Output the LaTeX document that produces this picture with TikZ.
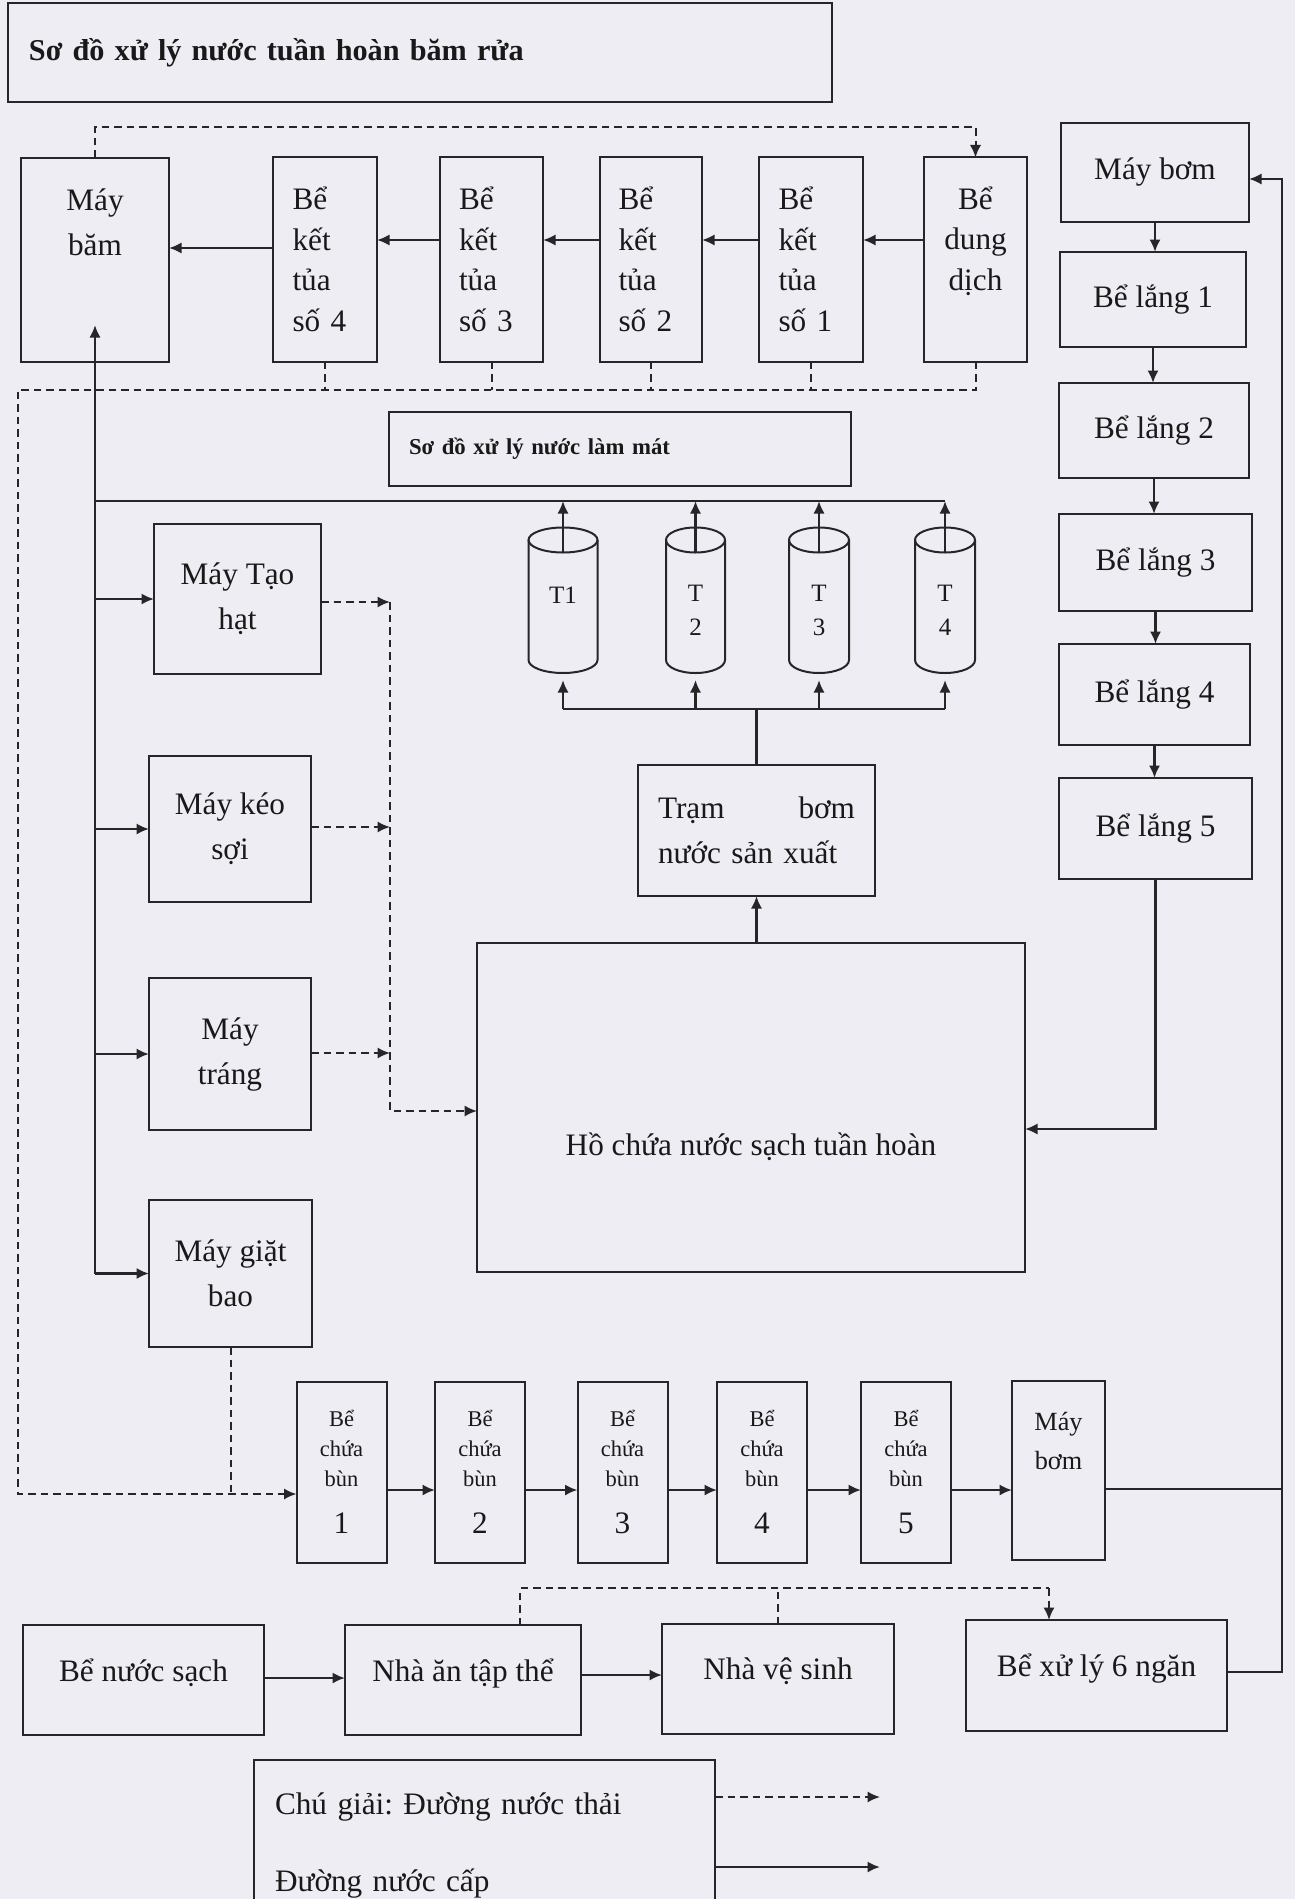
\documentclass[tikz,border=0pt]{standalone}
\usepackage{fontspec}
\setmainfont{Liberation Serif}
\usetikzlibrary{arrows.meta}
\frenchspacing

\definecolor{nen}{RGB}{238,237,243}
\definecolor{vien}{RGB}{38,38,40}

\tikzset{
  sz/.style 2 args={minimum width=#1*0.4pt, minimum height=#2*0.4pt},
  hop/.style={draw=vien, line width=0.8pt, inner sep=0pt, outer sep=0pt,
    align=center, text=black!90, font=\fontsize{12.5}{18}\selectfont},
  kt/.style={hop, align=left, text width=26pt, font=\fontsize{12.5}{16.2}\selectfont},
  bun/.style={hop, font=\fontsize{9}{12}\selectfont},
  nuoccap/.style={draw=vien, line width=1pt},
  nuocthai/.style={draw=vien, line width=0.8pt, dash pattern=on 3pt off 2pt},
}

\begin{document}
\begin{tikzpicture}[x=0.4pt,y=-0.4pt,>={Latex[length=5pt,width=4.5pt]}]

% --- Nen ---
\fill[nen] (0,0) rectangle (1295,1899);
\useasboundingbox (0,0) rectangle (1295,1899);

% --- Tieu de ---
\node[hop, sz={824}{99}, text width=312.8pt, align=left,
  font=\bfseries\fontsize{12.1}{15}\selectfont] (tieude) at (420,52.5)
  {Sơ đồ xử lý nước tuần hoàn băm rửa};

% --- Day be bam rua ---
\node[hop, sz={148}{204}, text height=27.5pt, text depth=31.5pt] (mb) at (95,260) {Máy\\băm};
\node[kt, sz={104}{204}] (kt4) at (325,259.5) {Bể\\kết\\tủa\\số 4};
\node[kt, sz={103}{204}] (kt3) at (491.5,259.5) {Bể\\kết\\tủa\\số 3};
\node[kt, sz={102}{204}] (kt2) at (651,259.5) {Bể\\kết\\tủa\\số 2};
\node[kt, sz={104}{204}] (kt1) at (811,259.5) {Bể\\kết\\tủa\\số 1};
\node[hop, sz={103}{204}, font=\fontsize{12.5}{16.2}\selectfont,
  text height=43.4pt, text depth=19pt] (dd) at (975.5,259.5) {Bể\\dung\\dịch};

\foreach \a/\b in {dd/kt1,kt1/kt2,kt2/kt3,kt3/kt4}
  \draw[nuoccap,->] (\a.west |- 0,240) -- (\b.east |- 0,240);
\draw[nuoccap,->] (kt4.west |- 0,248) -- (mb.east |- 0,248);

% --- Duong thai vong tren / duoi ---
\draw[nuocthai,->] (mb.north) -- ++(0,-31) -| (dd.north);
\foreach \b in {kt4,kt3,kt2,kt1}
  \draw[nuocthai] (\b.south) -- (\b.south |- 0,390);

% --- Cot lang ben phai ---
\node[hop, sz={188}{99}] (mbt) at (1155,172.5) {Máy bơm};
\node[hop, sz={186}{95}] (bl1) at (1153,299.5) {Bể lắng 1};
\node[hop, sz={190}{95}] (bl2) at (1154,430.5) {Bể lắng 2};
\node[hop, sz={193}{97}] (bl3) at (1155.5,562.5) {Bể lắng 3};
\node[hop, sz={191}{101}] (bl4) at (1154.5,694.5) {Bể lắng 4};
\node[hop, sz={193}{101}] (bl5) at (1155.5,828.5) {Bể lắng 5};

\foreach \a/\b in {mbt/bl1,bl1/bl2,bl2/bl3,bl3/bl4,bl4/bl5}
  \draw[nuoccap,->] (\a.south) -- (\a.south |- \b.north);

% --- Nuoc lam mat ---
\node[hop, sz={462}{74}, text width=168.8pt, align=left,
  font=\bfseries\fontsize{9.1}{12}\selectfont] (lammat) at (620,449)
  {Sơ đồ xử lý nước làm mát};

\foreach \i/\cx/\rx/\ty/\ten in {1/563/34.5/595/T1, 2/695.5/29.5/610/{T\\2},
    3/819/30/610/{T\\3}, 4/945/30/610/{T\\4}} {
  \draw[vien, line width=0.8pt] (\cx-\rx,540) -- (\cx-\rx,660)
    arc[start angle=180, end angle=360, x radius=\rx*0.4pt, y radius=5.2pt]
    -- (\cx+\rx,540);
  \draw[vien, line width=0.8pt] (\cx,540) ellipse[x radius=\rx*0.4pt, y radius=5pt];
  \node[font=\fontsize{10}{13.6}\selectfont, align=center, text=black!90] (t\i) at (\cx,\ty) {\ten};
  \coordinate (tren\i) at (\cx,553);
  \coordinate (duoi\i) at (\cx,680);
}

\node[hop, sz={237}{131}, text width=78.8pt, align=left] (tb) at (756.5,830.5)
  {Trạm\hfill bơm\\nước sản xuất};
\node[hop, sz={548}{329}, text height=41pt, text depth=3pt] (ho) at (751,1107.5)
  {Hồ chứa nước sạch tuần hoàn};

\foreach \i in {1,...,4} {
  \draw[nuoccap,->] (tren\i) -- (tren\i |- 0,501);
  \draw[nuoccap,->] (duoi\i |- 0,709) -- (duoi\i);
}
\draw[nuoccap] (duoi1 |- 0,709) -- (duoi4 |- 0,709);
\draw[nuoccap] (tb.north) -- (tb.north |- 0,709);
\draw[nuoccap,->] (tb.south |- ho.north) -- (tb.south);
\draw[nuoccap,->] (bl5.south) |- (ho.east |- 0,1129);

% --- May san xuat ---
\node[hop, sz={167}{150}] (mth) at (237.5,599) {Máy Tạo\\hạt};
\node[hop, sz={162}{146}] (mks) at (230,829) {Máy kéo\\sợi};
\node[hop, sz={162}{152}] (mtr) at (230,1054) {Máy\\tráng};
\node[hop, sz={163}{147}] (mgb) at (230.5,1273.5) {Máy giặt\\bao};

\coordinate (goctruc) at (mb.south |- mgb.west);
\draw[nuoccap,->] (goctruc) -- ([yshift=14.8pt]mb.south);
\draw[nuoccap] (goctruc |- 0,501) -- (tren4 |- 0,501);
\foreach \m in {mth,mks,mtr,mgb}
  \draw[nuoccap,->] (goctruc |- \m.west) -- (\m.west);

\coordinate (gom) at (390,602);
\draw[nuocthai,->] (mth.east |- gom) -- (gom);
\draw[nuocthai,->] (mks.east |- 0,827) -- (gom |- 0,827);
\draw[nuocthai,->] (mtr.east |- 0,1053) -- (gom |- 0,1053);
\draw[nuocthai,->] (gom) |- (ho.west |- 0,1111);

% --- Be chua bun ---
\foreach \i/\cx in {1/341.5,2/480,3/622.5,4/762,5/906}
  \node[bun, sz={90}{181}] (cb\i) at (\cx,1472)
    {Bể\\chứa\\bùn\\[7pt]{\fontsize{12.5}{12}\selectfont \i}};
\node[hop, sz={93}{179}, font=\fontsize{10.5}{15.6}\selectfont,
  text height=23.6pt, text depth=24.8pt] (mbb) at (1058.5,1470.5) {Máy\\bơm};

\foreach \a/\b in {cb1/cb2,cb2/cb3,cb3/cb4,cb4/cb5,cb5/mbb}
  \draw[nuoccap,->] (\a.east |- 0,1490) -- (\b.west |- 0,1490);

\draw[nuocthai,->] (dd.south) |- (18,390) |- (cb1.west |- 0,1494);
\draw[nuocthai] (mgb.south) -- (mgb.south |- 0,1494);

% --- Sinh hoat ---
\node[hop, sz={241}{110}, text depth=8pt] (bns) at (143.5,1680) {Bể nước sạch};
\node[hop, sz={236}{110}, text depth=8pt] (nha) at (463,1680) {Nhà ăn tập thể};
\node[hop, sz={232}{110}, text depth=8pt] (nvs) at (778,1679) {Nhà vệ sinh};
\node[hop, sz={261}{111}, text depth=8pt] (bx6) at (1096.5,1675.5) {Bể xử lý 6 ngăn};

\draw[nuoccap,->] (bns.east |- 0,1678) -- (nha.west |- 0,1678);
\draw[nuoccap,->] (nha.east |- 0,1675) -- (nvs.west |- 0,1675);

\coordinate (xuly) at (1049,1588);
\draw[nuocthai] (nha.north -| 520,0) |- (xuly);
\draw[nuocthai] (nvs.north) -- (nvs.north |- xuly);
\draw[nuocthai,->] (xuly) -- (xuly |- bx6.north);

% --- Duong ve may bom ---
\coordinate (phai) at (1282,179);
\draw[nuoccap,->] (bx6.east |- 0,1672) -| (phai) -- (mbt.east |- phai);
\draw[nuoccap] (mbb.east |- 0,1489) -- (phai |- 0,1489);

% --- Chu giai ---
\node[hop, sz={461}{145}, text width=167.6pt, align=left,
  text height=19pt] (chugiai) at (484.5,1832.5)
  {Chú giải: Đường nước thải\\[13pt]Đường nước cấp};
\coordinate (mauthai) at (880,1797);
\coordinate (maucap) at (880,1867);
\draw[nuocthai,->] (chugiai.east |- mauthai) -- (mauthai);
\draw[nuoccap,->] (chugiai.east |- maucap) -- (maucap);

\end{tikzpicture}
\end{document}
